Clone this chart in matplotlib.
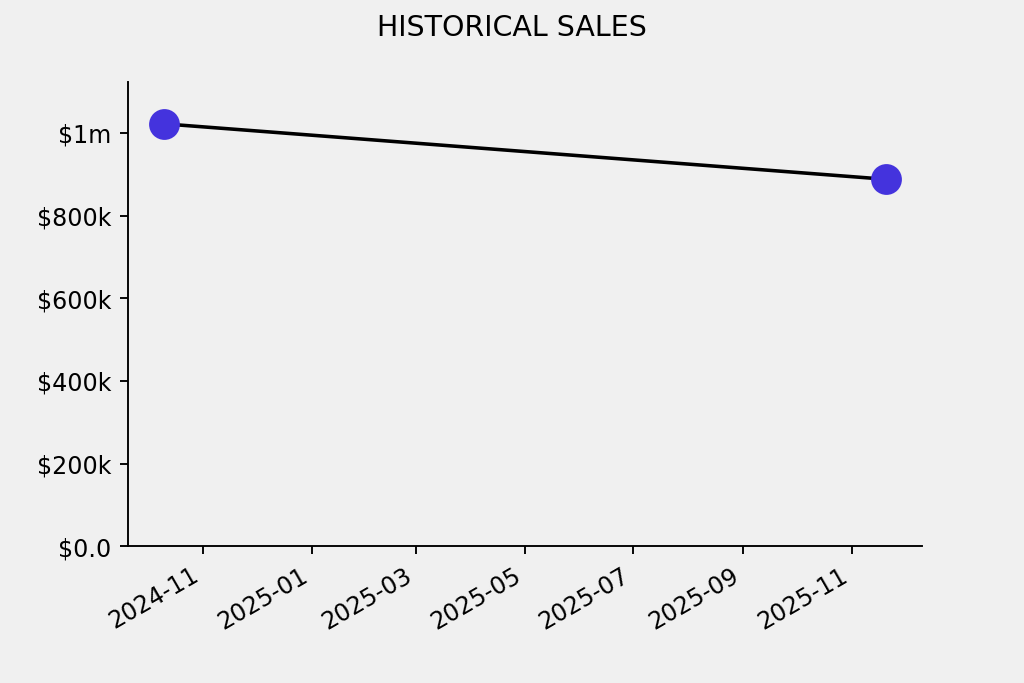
import numpy as np
import pandas as pd
import matplotlib
matplotlib.use('Agg')
import matplotlib.pyplot as plt
from matplotlib.ticker import FuncFormatter

# sales data
dates = pd.to_datetime(['2024-10-10', '2025-11-20'])
sales = [1022000, 888000]

def money(x, pos):
    if x >= 1e6:
        return f'${x/1e6:.0f}m'
    if x >= 1e3:
        return f'${x/1e3:.0f}k'
    return f'${x:.1f}'

dpi = 1024 / 6
fig, ax = plt.subplots(figsize=(6, 683.4 / dpi), dpi=dpi)
fig.patch.set_facecolor('#f0f0f0')
ax.set_facecolor('#f0f0f0')

ax.plot(dates, sales, color='black', linewidth=1.5, zorder=1)
ax.scatter(dates, sales, s=12**2, color='#4433dd', zorder=2)

ax.set_ylim(0, max(sales) * 1.1)
ax.yaxis.set_major_formatter(FuncFormatter(money))
ax.spines['top'].set_visible(False)
ax.spines['right'].set_visible(False)

fig.suptitle('HISTORICAL SALES')
fig.autofmt_xdate()

plt.savefig('out.png', dpi=dpi, facecolor=fig.get_facecolor())
